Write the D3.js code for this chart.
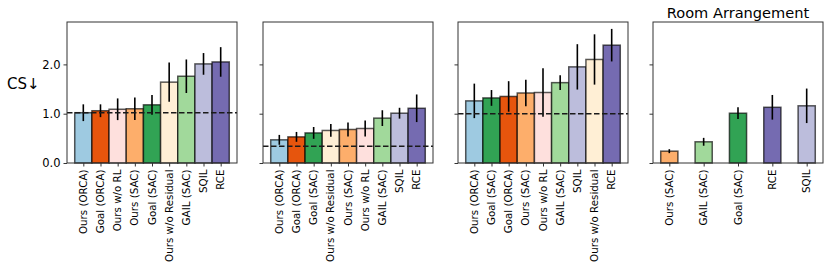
<!DOCTYPE html>
<meta charset="utf-8">
<style>
body { margin: 0; background: #fff; }
text { font-family: "DejaVu Sans", sans-serif; fill: #000; }
.spine { fill: none; stroke: #333; stroke-width: 1; }
</style>
<svg width="830" height="267"></svg>
<script src="https://d3js.org/d3.v7.min.js"></script>
<script>
// panel 1
var cats1 = ["Ours (ORCA)", "Goal (ORCA)", "Ours w/o RL", "Ours (SAC)", "Goal (SAC)", "Ours w/o Residual", "GAIL (SAC)", "SQIL", "RCE"];
var vals1 = [1.02, 1.06, 1.09, 1.10, 1.18, 1.64, 1.76, 2.01, 2.05];
var errs1 = [0.17, 0.13, 0.22, 0.23, 0.20, 0.40, 0.34, 0.22, 0.30];
var ref1 = 1.02;

// panel 2
var cats2 = ["Ours (ORCA)", "Goal (ORCA)", "Goal (SAC)", "Ours w/o Residual", "Ours (SAC)", "Ours w/o RL", "GAIL (SAC)", "SQIL", "RCE"];
var vals2 = [0.47, 0.53, 0.61, 0.66, 0.68, 0.70, 0.91, 1.01, 1.11];
var errs2 = [0.10, 0.10, 0.12, 0.13, 0.14, 0.16, 0.16, 0.11, 0.28];
var ref2 = 0.34;

// panel 3
var cats3 = ["Ours (ORCA)", "Goal (SAC)", "Goal (ORCA)", "Ours (SAC)", "Ours w/o RL", "GAIL (SAC)", "SQIL", "Ours w/o Residual", "RCE"];
var vals3 = [1.26, 1.32, 1.35, 1.42, 1.43, 1.63, 1.95, 2.10, 2.39];
var errs3 = [0.35, 0.16, 0.31, 0.27, 0.49, 0.15, 0.46, 0.51, 0.33];
var ref3 = 1.00;

// panel 4
var cats4 = ["Ours (SAC)", "GAIL (SAC)", "Goal (SAC)", "RCE", "SQIL"];
var vals4 = [0.24, 0.43, 1.01, 1.13, 1.16];
var errs4 = [0.04, 0.08, 0.12, 0.25, 0.35];

var methods = ["Ours (ORCA)", "Goal (ORCA)", "Ours w/o RL", "Ours (SAC)", "Goal (SAC)", "Ours w/o Residual", "GAIL (SAC)", "SQIL", "RCE"];
var colors = ["#9ecae1", "#e6550d", "#fee0dd", "#fdae6b", "#31a354", "#ffefd5", "#a1d99b", "#bcbddc", "#756bb1"];

var color = d3.scaleOrdinal().domain(methods).range(colors);

var panels = [
  {cats: cats1, vals: vals1, errs: errs1, ref: ref1, barW: 1, left: 67, labels: true},
  {cats: cats2, vals: vals2, errs: errs2, ref: ref2, barW: 1, left: 263},
  {cats: cats3, vals: vals3, errs: errs3, ref: ref3, barW: 1, left: 458},
  {cats: cats4, vals: vals4, errs: errs4, ref: null, barW: 0.5, left: 653, title: "Room Arrangement"}
];

var svg = d3.select("svg"),
    yTop = 22, yBottom = 163, pw = 170;

var y = d3.scaleLinear().domain([0, 2.86]).range([yBottom, yTop]);

panels.forEach(function(p) {
  var n = p.cats.length,
      lo = -p.barW / 2, hi = n - 1 + p.barW / 2, m = 0.05 * (hi - lo);
  var x = d3.scaleLinear().domain([lo - m, hi + m]).range([0, pw]);
  var g = svg.append("g").attr("transform", "translate(" + p.left + ",0)");

  g.selectAll(".bar").data(p.cats).enter().append("rect")
      .attr("x", function(d, i) { return x(i - p.barW / 2); })
      .attr("width", function() { return x(p.barW) - x(0); })
      .attr("y", function(d, i) { return y(p.vals[i]); })
      .attr("height", function(d, i) { return y(0) - y(p.vals[i]); })
      .attr("fill", function(d) { return color(d); })
      .attr("stroke", "#000")
      .attr("stroke-opacity", 0.65)
      .attr("stroke-width", 1.5);

  g.selectAll(".err").data(p.cats).enter().append("line")
      .attr("x1", function(d, i) { return x(i); })
      .attr("x2", function(d, i) { return x(i); })
      .attr("y1", function(d, i) { return y(p.vals[i] - p.errs[i]); })
      .attr("y2", function(d, i) { return y(p.vals[i] + p.errs[i]); })
      .attr("stroke", "#000")
      .attr("stroke-width", 1.6);

  if (p.ref != null) {
    g.append("line")
      .attr("x1", 0).attr("x2", pw)
      .attr("y1", y(p.ref)).attr("y2", y(p.ref))
      .attr("stroke", "#1a1a1a")
      .attr("stroke-width", 1.6)
      .attr("stroke-dasharray", "5.5,2.5");
  }

  var yAxis = d3.axisLeft(y).tickValues([0, 1, 2]).tickSize(3.5).tickPadding(3)
      .tickFormat(p.labels ? d3.format(".1f") : "");
  var ya = g.append("g").call(yAxis);
  ya.select(".domain").remove();
  ya.selectAll("line").attr("stroke", "#333");
  ya.selectAll("text").style("font-size", "11.5px");

  var xAxis = d3.axisBottom(x).tickValues(d3.range(n)).tickSize(3.5).tickFormat("");
  var xa = g.append("g").attr("transform", "translate(0," + yBottom + ")").call(xAxis);
  xa.select(".domain").remove();
  xa.selectAll("line").attr("stroke", "#333");

  g.selectAll(".cat").data(p.cats).enter().append("text")
      .attr("transform", function(d, i) { return "translate(" + x(i) + "," + (yBottom + 6.5) + ") rotate(-90)"; })
      .attr("text-anchor", "end")
      .attr("dy", "0.35em")
      .style("font-size", "10.3px")
      .text(function(d) { return d; });

  g.append("rect").attr("class", "spine")
      .attr("x", 0).attr("y", yTop).attr("width", pw).attr("height", yBottom - yTop);

  if (p.title) {
    g.append("text")
      .attr("x", pw / 2).attr("y", 17.5)
      .attr("text-anchor", "middle")
      .style("font-size", "14.6px")
      .text(p.title);
  }
});

svg.append("text")
    .attr("x", 7).attr("y", 84)
    .attr("dy", "0.35em")
    .style("font-size", "15px")
    .text("CS\u2193");
</script>
